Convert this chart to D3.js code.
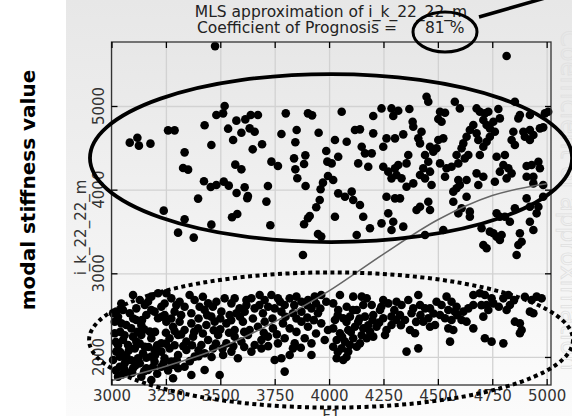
<!DOCTYPE html>
<html>
<head>
<meta charset="utf-8">
<script src="https://cdn.jsdelivr.net/npm/d3@7"></script>
<style>
  body { margin: 0; background: #fff; }
  text { font-family: 'DejaVu Sans', sans-serif; }
</style>
</head>
<body>
<div id="graf"></div>
<script>
// tick values
const ticksX = [3000, 3250, 3500, 3750, 4000, 4250, 4500, 4750, 5000]
const ticksY = [2000, 3000, 4000, 5000]
const prognosis = 81

// upper group of samples [F1, i_k_22_22_m]
const grupoAlto = [
  [3476,5716],[4816,5597],
  [3084,4562],[3119,4621],[3126,4526],[3179,4550],[3260,4709],[3290,4709],[3336,4446],[3329,4259],
  [3352,4239],[3428,4769],[3459,4534],[3482,4892],[3513,4912],[3520,5000],[3574,4825],[3615,4840],
  [3640,4892],[3673,4892],[3658,4693],[3635,4733],[3536,4729],[3559,4594],[3597,4681],[3649,4482],
  [3692,4542],[3569,4299],[3597,4243],[3425,4100],[3456,4032],[3482,4056],[3516,4096],[3539,4048],
  [3398,3893],[3575,3960],[3612,4028],[3624,3897],[3627,3924],[3719,4044],[3712,3857],[3735,4335],
  [3765,4283],[3801,4912],[3781,4665],[3851,4713],[3845,4566],[3903,4912],[3922,4888],[3952,4681],
  [3839,4374],[3891,4410],[3885,4307],[3845,4243],[3854,4136],[3892,4044],[3987,4462],[3992,4335],
  [3995,4163],[3972,4084],[3961,4004],[3957,3877],[3941,3789],[3911,3685],[3903,3658],[3885,3586],
  [3949,3470],[3964,3439],[3240,3749],[3336,3646],[3306,3486],[3378,3427],[3459,3582],[3554,3670],
  [3578,3709],[3730,3574],[3880,3219],
  [4448,5111],[4456,5051],[4578,5051],[4601,4971],[4058,4932],[4241,4971],[4287,4971],[4318,4944],
  [4295,4880],[4369,4964],[4203,4880],[4510,4932],[4533,4920],[4502,4844],[4517,4812],[4678,4971],
  [4693,4932],[4716,4912],[4732,4932],[4778,4964],[4785,4852],[4709,4832],[4724,4772],[4755,4812],
  [4739,4733],[4762,4693],[4854,5051],[4877,4892],[4923,4892],[4992,4912],[5007,4932],[4870,4852],
  [4384,4812],[4387,4752],[4425,4693],[4410,4613],[4418,4553],[4119,4713],[4142,4721],[4203,4673],
  [4081,4573],[4027,4593],[4264,4613],[4303,4613],[4341,4661],[4502,4593],[4525,4613],[4464,4513],
  [4494,4494],[4479,4454],[4663,4772],[4647,4713],[4632,4633],[4617,4553],[4609,4494],[4678,4673],
  [4686,4593],[4709,4513],[4693,4414],[4739,4633],[4724,4573],[4847,4693],[4893,4693],[4923,4713],
  [4939,4653],[4900,4633],[4923,4593],[4839,4593],[4854,4533],[4969,4733],[4984,4744],[4150,4513],
  [4165,4434],[4196,4434],[4249,4513],[4042,4394],[4012,4314],[4134,4314],[4180,4274],[4249,4274],
  [4272,4215],[4303,4255],[4318,4294],[4356,4314],[4364,4414],[4310,4175],[4287,4135],[4333,4135],
  [4441,4414],[4456,4334],[4433,4255],[4464,4215],[4418,4175],[4441,4135],[4471,4055],[4387,4075],
  [4356,4035],[4510,4314],[4540,4255],[4533,4155],[4563,4274],[4594,4314],[4624,4374],[4640,4414],
  [4586,4414],[4678,4195],[4709,4155],[4594,4115],[4601,4055],[4586,4016],[4632,4115],[4770,4394],
  [4808,4414],[4801,4294],[4824,4255],[4839,4195],[4816,4135],[4785,4215],[4908,4282],[4931,4294],
  [4962,4334],[4969,4255],[4908,4155],[4939,4155],[4939,4075],[4984,4055],[4762,4095],[4686,4055],
  [4019,4115],[4042,3956],[4073,3916],[4104,3976],[4111,3876],[4142,3816],[4157,3677],[4188,3538],
  [4241,3597],[4272,3717],[4295,3617],[4287,3518],[4341,3558],[4027,3677],[4264,3916],[4303,3896],
  [4326,3896],[4402,3757],[4418,3796],[4456,3856],[4464,3757],[4127,3458],[4441,3458],[4571,3976],
  [4571,3856],[4632,3916],[4609,3777],[4594,3717],[4647,3737],[4647,3677],[4525,3518],[4701,3538],
  [4739,3498],[4755,3478],[4770,3438],[4785,3398],[4793,3458],[4709,3338],[4724,3299],[4770,3717],
  [4785,3677],[4808,3677],[4831,3617],[4854,3777],[4908,3896],[4923,3796],[4954,3717],[4962,3796],
  [4923,3617],[4939,3518],[4877,3478],[4885,3378],[4870,3338],[4862,3219],[4984,3916]
]

// lower group of samples
const grupoBajo = [
  [3099,2741],[3130,2681],[3183,2721],[3214,2761],[3252,2761],[3275,2701],[3313,2661],[3359,2741],
  [3382,2681],[3405,2601],[3444,2641],[3482,2661],[3520,2701],[3551,2641],[3589,2581],[3643,2701],
  [3681,2741],[3704,2681],[3735,2741],[3765,2701],[3796,2621],[3819,2701],[3850,2721],[3873,2661],
  [3903,2681],[3934,2721],[3964,2741],[3987,2661],
  [3022,2542],[3053,2562],[3084,2522],[3114,2581],[3153,2621],[3183,2562],[3229,2601],[3290,2542],
  [3336,2601],[3367,2522],[3428,2562],[3459,2482],[3505,2542],[3543,2502],[3574,2522],[3612,2542],
  [3658,2581],[3696,2522],[3750,2581],[3781,2542],[3834,2522],[3873,2542],[3919,2581],[3949,2522],
  [3015,2422],[3045,2402],[3091,2342],[3137,2382],[3176,2303],[3214,2462],[3252,2422],[3283,2362],
  [3313,2422],[3367,2402],[3398,2342],[3436,2382],[3474,2422],[3528,2402],[3566,2323],[3604,2422],
  [3635,2323],[3673,2362],[3704,2422],[3742,2342],[3788,2402],[3819,2342],[3873,2422],[3903,2362],
  [3964,2402],[3995,2323],
  [3053,2203],[3099,2243],[3137,2263],[3183,2223],[3229,2163],[3267,2223],[3306,2263],[3344,2183],
  [3375,2243],[3413,2143],[3444,2203],[3490,2263],[3528,2163],[3566,2243],[3597,2183],[3627,2263],
  [3658,2143],[3689,2203],[3719,2243],[3765,2163],[3796,2223],[3842,2163],[3888,2223],[3919,2163],
  [3980,2203],
  [3022,2064],[3068,2024],[3107,2103],[3145,2044],[3183,2004],[3229,2064],[3267,2103],[3306,2024],
  [3344,2084],[3382,2004],[3428,2044],[3467,2103],[3513,2024],[3551,2064],[3581,1984],[3643,2064],
  [3689,2103],[3750,1964],[3781,1984],[3819,2024],[3834,2103],[3919,2024],
  [3007,1964],[3038,1884],[3061,1924],[3099,1865],[3130,1924],[3168,1845],[3198,1944],[3229,1884],
  [3283,1904],[3306,1865],[3428,1845],[3497,1785],[3796,1825],[3283,1745],[3137,1765],[3030,1765],
  [3076,1805],[3183,1725],
  [3015,2283],[3068,2382],[3114,2442],[3160,2502],[3198,2542],[3244,2502],[3336,2323],[3076,2143],
  [3114,2183],[3153,2123],[3198,2084],[3244,1984],[3038,2004],[3122,1984],[3275,1944],[3336,1884],
  [3367,1785],[3160,1865],[3007,2522],
  [3045,2640],[3168,2660],[3244,2640],[3298,2620],[3420,2720],[3466,2600],[3566,2700],[3620,2620],
  [3720,2600],[3840,2620],[3940,2640],
  [3030,2480],[3100,2460],[3140,2440],[3230,2480],[3275,2460],[3320,2500],[3400,2460],[3440,2500],
  [3500,2460],[3550,2440],[3590,2480],[3650,2460],[3740,2460],[3800,2480],[3850,2460],[3900,2470],
  [3930,2440],
  [3040,2300],[3060,2260],[3120,2300],[3150,2330],[3200,2300],[3250,2290],[3290,2310],[3320,2270],
  [3380,2300],[3420,2280],[3470,2320],[3500,2330],[3540,2290],[3610,2300],[3700,2290],[3760,2270],
  [3850,2300],[3940,2280],
  [3030,2140],[3080,2080],[3130,2160],[3170,2120],[3210,2140],[3250,2160],[3290,2140],[3330,2130],
  [3370,2140],[3400,2080],[3480,2160],[3510,2100],[3560,2130],[3610,2120],[3720,2130],[3870,2110],
  [3060,2010],[3090,1960],[3160,1990],[3200,2020],[3240,1930],[3300,1960],[3360,1950],[3400,2010],
  [3460,2000],[3060,1850],[3110,1900],[3190,1880],
  [3020,1840],[3050,1790],[3095,1810],[3150,1830],[3210,1800],[3260,1840],[3020,2180],[3040,2060],
  [3775,2660],[3900,2620],[3960,2580],[3680,2620],[3620,2680],
  [4050,2741],[4019,2641],[4042,2562],[4081,2601],[4111,2721],[4150,2721],[4173,2701],[4157,2621],
  [4127,2562],[4196,2621],[4249,2681],[4272,2641],[4310,2661],[4333,2621],[4364,2681],[4387,2581],
  [4410,2741],[4418,2621],[4441,2581],[4464,2581],[4494,2661],[4517,2621],[4540,2721],[4563,2661],
  [4586,2601],[4548,2562],[4510,2502],[4533,2462],[4578,2542],[4617,2542],[4640,2581],[4663,2621],
  [4663,2741],[4693,2761],[4716,2741],[4724,2621],[4747,2701],[4755,2641],[4801,2701],[4824,2741],
  [4831,2621],[4816,2562],[4931,2681],[4954,2721],[4977,2701],[4923,2542],[4939,2522],
  [4027,2442],[4065,2462],[4096,2482],[4134,2422],[4165,2482],[4203,2502],[4234,2562],[4249,2462],
  [4287,2482],[4326,2502],[4349,2442],[4379,2522],[4372,2323],[4395,2283],[4433,2422],[4456,2462],
  [4464,2362],[4487,2382],[4548,2342],[4571,2323],[4563,2442],[4609,2442],[4632,2422],[4663,2342],
  [4709,2482],[4732,2562],[4854,2422],[4877,2402],[4885,2323],[4877,2283],
  [4019,2342],[4050,2283],[4088,2323],[4119,2362],[4157,2342],[4188,2303],[4218,2362],[4264,2323],
  [4287,2382],[4310,2442],[4035,2203],[4073,2183],[4111,2223],[4142,2163],[4173,2223],[4203,2243],
  [4257,2263],[4019,2123],[4058,2103],[4096,2143],[4127,2123],[4035,1984],[4065,1964],[4088,2064],
  [4356,2064],[4410,2103],[4556,2183],[4716,2223],[4747,2183],[4801,2163],
  [4040,2500],[4080,2420],[4110,2560],[4140,2460],[4180,2380],[4200,2440],[4230,2410],[4100,2300],
  [4060,2240],[4150,2260],[4040,2060],[4080,2000],[4240,2600],[4300,2560],[4330,2380],[4400,2420],
  [4420,2500],[4480,2520],[4590,2500],[4700,2620],[4780,2600],[4850,2680],[4900,2720]
]

// MLS approximation curve
const curvaMLS = [
  [3000,1720],[3250,1890],[3500,2110],[3750,2420],[4000,2790],
  [4250,3230],[4500,3640],[4750,3930],[5000,4070]
]

const anchoTotal = 572
const altoTotal = 416

const margin = {
  top: 42,
  bottom: 31,
  left: 111.5,
  right: 21,
}

const ancho = anchoTotal - margin.left - margin.right
const alto = altoTotal - margin.top - margin.bottom

const svg = d3.select('#graf')
  .append('svg')
  .attr('width', anchoTotal)
  .attr('height', altoTotal)

const defs = svg.append('defs')
const grad = defs.append('linearGradient')
  .attr('id', 'fondo')
  .attr('x1', 0).attr('y1', 0).attr('x2', 0).attr('y2', 1)
grad.append('stop').attr('offset', '0%').attr('stop-color', '#e7e7e7')
grad.append('stop').attr('offset', '100%').attr('stop-color', '#fbfbfb')

// panel background
svg.append('rect')
  .attr('x', 66)
  .attr('y', 0)
  .attr('width', anchoTotal - 66)
  .attr('height', altoTotal)
  .attr('fill', 'url(#fondo)')

// faint text of the neighbouring panel
svg.append('text')
  .attr('transform', 'translate(561, 30) rotate(90)')
  .attr('font-size', 24)
  .attr('fill', 'none')
  .attr('stroke', '#e0e0e0')
  .attr('stroke-width', 0.8)
  .text('Coefficient of approximation')

const g = svg.append('g')
  .attr('transform', `translate(${margin.left}, ${margin.top})`)

const x = d3.scaleLinear()
  .domain([3000, 5020])
  .range([0, ancho])

const y = d3.scaleLinear()
  .domain([1665, 5765])
  .range([alto, 0])

g.append('rect')
  .attr('width', ancho)
  .attr('height', alto)
  .attr('fill', 'url(#fondo)')

// grid
g.append('g')
  .attr('transform', `translate(0, ${alto})`)
  .call(d3.axisBottom(x).tickValues(ticksX).tickSize(-alto).tickFormat(''))
  .call(a => a.select('.domain').remove())
  .selectAll('line').attr('stroke', '#d2d2d2').attr('stroke-width', 1.5)

g.append('g')
  .call(d3.axisLeft(y).tickValues(ticksY).tickSize(-ancho).tickFormat(''))
  .call(a => a.select('.domain').remove())
  .selectAll('line').attr('stroke', '#d2d2d2').attr('stroke-width', 1.5)

// samples
g.selectAll('circle.punto')
  .data(grupoAlto.concat(grupoBajo))
  .enter()
  .append('circle')
  .attr('class', 'punto')
  .attr('cx', d => x(d[0]))
  .attr('cy', d => y(d[1]))
  .attr('r', 4.3)
  .attr('fill', '#000')

// MLS curve
const linea = d3.line()
  .x(d => x(d[0]))
  .y(d => y(d[1]))
  .curve(d3.curveMonotoneX)

g.append('path')
  .datum(curvaMLS)
  .attr('d', linea)
  .attr('fill', 'none')
  .attr('stroke', '#666')
  .attr('stroke-width', 1.5)

// frame + inward ticks
g.append('rect')
  .attr('width', ancho)
  .attr('height', alto)
  .attr('fill', 'none')
  .attr('stroke', '#333')
  .attr('stroke-width', 1.3)

const ejeX = g.append('g')
  .attr('transform', `translate(0, ${alto})`)
  .call(d3.axisBottom(x).tickValues(ticksX).tickSizeInner(-6).tickSizeOuter(0)
    .tickPadding(5).tickFormat(d3.format('d')))
ejeX.select('.domain').remove()
ejeX.selectAll('text')
  .attr('font-size', 15)
  .attr('font-family', 'DejaVu Sans')
  .attr('fill', '#333')

g.append('g')
  .call(d3.axisTop(x).tickValues(ticksX).tickSizeInner(-6).tickSizeOuter(0).tickFormat(''))
  .call(a => a.select('.domain').remove())

g.append('g')
  .call(d3.axisLeft(y).tickValues(ticksY).tickSizeInner(-6).tickSizeOuter(0).tickFormat(''))
  .call(a => a.select('.domain').remove())

g.append('g')
  .attr('transform', `translate(${ancho}, 0)`)
  .call(d3.axisRight(y).tickValues(ticksY).tickSizeInner(-6).tickSizeOuter(0).tickFormat(''))
  .call(a => a.select('.domain').remove())

g.selectAll('.tick line').attr('stroke-width', 1.3)

// y tick labels, rotated
g.selectAll('text.ytick')
  .data(ticksY)
  .enter()
  .append('text')
  .attr('class', 'ytick')
  .attr('transform', d => `translate(-7.5, ${y(d)}) rotate(-90)`)
  .attr('text-anchor', 'middle')
  .attr('font-size', 15)
  .attr('fill', '#333')
  .text(d => d)

// axis titles
g.append('text')
  .attr('transform', `translate(-25.5, ${alto / 2 + 14}) rotate(-90)`)
  .attr('text-anchor', 'middle')
  .attr('font-size', 15)
  .attr('fill', '#333')
  .text('i_k_22_22_m')

g.append('text')
  .attr('x', ancho / 2)
  .attr('y', alto + 36)
  .attr('text-anchor', 'middle')
  .attr('font-size', 15)
  .attr('fill', '#333')
  .text('F1')

svg.append('text')
  .attr('transform', 'translate(35, 190) rotate(-90)')
  .attr('text-anchor', 'middle')
  .attr('font-family', 'Liberation Sans, Arial, sans-serif')
  .attr('font-weight', 'bold')
  .attr('font-size', 20)
  .attr('fill', '#000')
  .text('modal stiffness value')

// title
svg.append('text')
  .attr('x', 331)
  .attr('y', 17)
  .attr('text-anchor', 'middle')
  .attr('font-size', 15.5)
  .attr('fill', '#222')
  .text('MLS approximation of i_k_22_22_m')

svg.append('text')
  .attr('x', 397)
  .attr('y', 33)
  .attr('text-anchor', 'end')
  .attr('font-size', 15.5)
  .attr('fill', '#222')
  .text('Coefficient of Prognosis =')

svg.append('text')
  .attr('x', 425)
  .attr('y', 33)
  .attr('font-size', 15.5)
  .attr('fill', '#222')
  .text(`${prognosis} %`)

// hand-drawn annotations
g.append('ellipse')
  .attr('cx', x(4009))
  .attr('cy', y(4378))
  .attr('rx', x(4009 + 1108) - x(4009))
  .attr('ry', y(4378 - 1004) - y(4378))
  .attr('fill', 'none')
  .attr('stroke', '#000')
  .attr('stroke-width', 3.8)

g.append('ellipse')
  .attr('cx', x(4009))
  .attr('cy', y(2203))
  .attr('rx', x(4009 + 1112) - x(4009))
  .attr('ry', y(2203 - 808) - y(2203))
  .attr('fill', 'none')
  .attr('stroke', '#000')
  .attr('stroke-width', 4)
  .attr('stroke-dasharray', '4 3.5')

svg.append('ellipse')
  .attr('cx', 445)
  .attr('cy', 32)
  .attr('rx', 32)
  .attr('ry', 20)
  .attr('fill', 'none')
  .attr('stroke', '#000')
  .attr('stroke-width', 3)

svg.append('line')
  .attr('x1', 479).attr('y1', 17)
  .attr('x2', 545).attr('y2', -2)
  .attr('stroke', '#000')
  .attr('stroke-width', 3.5)
</script>
</body>
</html>
